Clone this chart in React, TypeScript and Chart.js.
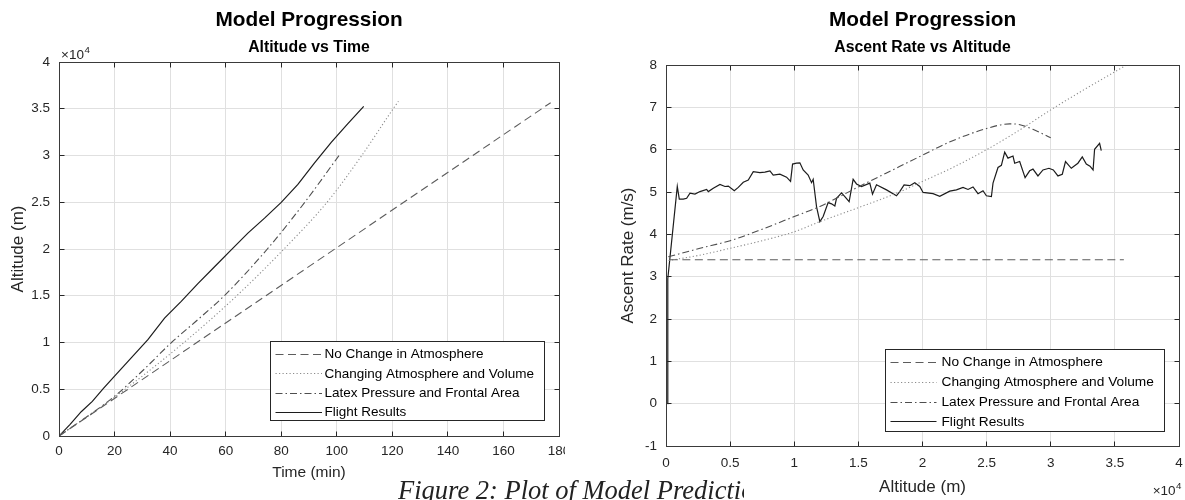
import React, { useEffect, useRef } from "react";
import { Chart, registerables } from "chart.js";

Chart.register(...registerables);

const FONT = '"Liberation Sans", Arial, sans-serif';

// ---------------- Data: left panel (Altitude vs Time) ----------------
const seriesLabels = [
  "No Change in Atmosphere",
  "Changing Atmosphere and Volume",
  "Latex Pressure and Frontal Area",
  "Flight Results",
];

const noChangeTime = [0, 177];
const noChangeAltitude = [0, 35650];

const changingTime = [0, 20, 45, 64, 81, 96.5, 109, 120.3, 122.2];
const changingAltitude = [0, 4150, 10000, 15000, 20000, 25000, 30000, 35000, 35800];

const latexTime = [0, 20, 30, 40.5, 50, 59.5, 75, 88.5, 100.8];
const latexAltitude = [0, 4250, 6950, 10000, 12450, 15000, 20000, 25000, 30000];

const flightTime = [0, 4, 8, 12, 16, 20, 26, 32, 38, 44, 50, 56, 62, 68, 74, 80, 86, 92, 98, 104, 109.7];
const flightAltitude = [0, 1250, 2600, 3700, 5100, 6400, 8350, 10300, 12600, 14400, 16300, 18100, 19900, 21700, 23300, 24980, 26900, 29200, 31400, 33400, 35260];

// ---------------- Data: right panel (Ascent Rate vs Altitude) ----------------
const noChangeRateAltitude = [300, 35700];
const noChangeRate = [3.4, 3.4];

const changingRateAltitude = [200, 2500, 5000, 7500, 10000, 12000, 15000, 18200, 20000, 22500, 25000, 27500, 30000, 32500, 35000, 35900];
const changingRate = [3.38, 3.5, 3.67, 3.85, 4.06, 4.3, 4.63, 5.0, 5.25, 5.6, 6.0, 6.45, 6.94, 7.4, 7.84, 8.0];

const latexRateAltitude = [180, 2650, 5000, 7500, 10000, 12000, 15000, 18200, 20000, 22100, 25000, 26800, 27600, 28600, 30000];
const latexRate = [3.47, 3.67, 3.85, 4.12, 4.42, 4.66, 5.12, 5.6, 5.87, 6.18, 6.5, 6.61, 6.59, 6.48, 6.28];

const flightRateAltitude = [
  120, 140, 880, 1036, 1348, 1610, 1870, 2259, 2649, 3168, 3298, 3687, 4207, 4597, 4857, 5324, 5636, 6025, 6415, 6805,
  7323, 7712, 8102, 8361, 8881, 9402, 9713, 9869, 10181, 10439, 10696, 11085, 11350, 11475, 11740, 11997, 12254, 12643,
  12908, 13165, 13298, 13687, 13944, 14279, 14591, 14856, 15245, 15891, 16102, 16413, 17193, 17972, 18226, 18564, 19008,
  19398, 19787, 20044, 20823, 21345, 22124, 22646, 23160, 23549, 23939, 24329, 24718, 24983, 25373, 25498, 25887, 26151,
  26409, 26666, 27055, 27188, 27577, 28000, 28356, 28614, 29003, 29393, 29860, 30200, 30560, 30900, 31150, 31603, 32118,
  32458, 32773, 33060, 33300, 33419, 33809, 33939,
];
const flightRate = [
  0, 2.95, 5.13, 4.83, 4.83, 4.85, 4.97, 4.95, 5.01, 5.06, 5.01, 5.09, 5.18, 5.13, 5.14, 5.03, 5.11, 5.23, 5.28, 5.48,
  5.46, 5.47, 5.5, 5.4, 5.42, 5.35, 5.25, 5.66, 5.68, 5.69, 5.52, 5.4, 5.22, 5.3, 4.65, 4.3, 4.42, 4.75,
  4.72, 4.67, 4.85, 4.98, 4.89, 4.77, 5.3, 5.19, 5.13, 5.21, 4.95, 5.17, 5.05, 4.91, 5.01, 5.17, 5.15,
  5.22, 5.13, 4.99, 4.96, 4.9, 5.02, 5.05, 5.11, 5.06, 5.12, 4.96, 5.03, 4.91, 4.89, 5.21, 5.58, 5.63,
  5.94, 5.8, 5.85, 5.68, 5.72, 5.34, 5.5, 5.54, 5.38, 5.52, 5.56, 5.52, 5.38, 5.42, 5.72, 5.56, 5.68,
  5.83, 5.66, 5.61, 5.52, 6.01, 6.15, 5.98,
];

// ---------------- Styles ----------------
const seriesStyles = [
  { color: "#5c5c5c", dash: [8, 4.5], width: 1.1, smooth: true },
  { color: "#8c8c8c", dash: [1.2, 2.3], width: 1.1, smooth: true },
  { color: "#4e4e4e", dash: [7, 3, 1.5, 3], width: 1.1, smooth: true },
  { color: "#1c1c1c", dash: [], width: 1.2, smooth: false },
];

function zip(xs: number[], ys: number[]) {
  return xs.map((x, i) => ({ x, y: ys[i] }));
}

function fmt(v: number) {
  return String(Number(v.toFixed(3)));
}

function align(p: number) {
  return Math.round(p - 0.5) + 0.5;
}

const decorPlugin = {
  id: "decor",
  afterDraw(chart: any, _args: any, o: any) {
    const { ctx, chartArea: a } = chart;
    const xs = chart.scales.x;
    const ys = chart.scales.y;
    const L = align(a.left);
    const R = align(a.right);
    const T = align(a.top);
    const B = align(a.bottom);
    ctx.save();
    // inward tick marks on all four sides
    ctx.strokeStyle = "#262626";
    ctx.lineWidth = 1;
    ctx.setLineDash([]);
    ctx.beginPath();
    const tl = o.tickLen;
    xs.ticks.forEach((t: any) => {
      const px = align(xs.getPixelForValue(t.value));
      ctx.moveTo(px, B);
      ctx.lineTo(px, B - tl);
      ctx.moveTo(px, T);
      ctx.lineTo(px, T + tl);
    });
    ys.ticks.forEach((t: any) => {
      const py = align(ys.getPixelForValue(t.value));
      ctx.moveTo(L, py);
      ctx.lineTo(L + tl, py);
      ctx.moveTo(R, py);
      ctx.lineTo(R - tl, py);
    });
    ctx.stroke();
    // box
    ctx.strokeStyle = "#3a3a3a";
    ctx.strokeRect(L, T, R - L, B - T);

    // titles
    ctx.fillStyle = "#000";
    ctx.textAlign = "center";
    ctx.textBaseline = "middle";
    const cx = (a.left + a.right) / 2;
    ctx.font = `bold ${o.titleSize}px ${FONT}`;
    ctx.fillText(o.title, cx, o.titleY);
    ctx.font = `bold ${o.subtitleSize}px ${FONT}`;
    ctx.fillText(o.subtitle, cx, o.subtitleY);

    // exponent label  x10^4
    ctx.fillStyle = "#262626";
    ctx.textBaseline = "alphabetic";
    ctx.textAlign = "left";
    ctx.font = `${o.expoSize}px ${FONT}`;
    const base = "\u00d710";
    const w1 = ctx.measureText(base).width;
    ctx.font = `${o.expoSize * 0.72}px ${FONT}`;
    const w2 = ctx.measureText("4").width;
    const ex = o.expoAlign === "right" ? a.right + o.expoDx - (w1 + w2) : a.left + o.expoDx;
    const ey = o.expoFrom === "bottom" ? a.bottom + o.expoDy : a.top + o.expoDy;
    ctx.font = `${o.expoSize}px ${FONT}`;
    ctx.fillText(base, ex, ey);
    ctx.font = `${o.expoSize * 0.72}px ${FONT}`;
    ctx.fillText("4", ex + w1 + 0.5, ey - o.expoSize * 0.42);

    // legend
    const lg = o.legend;
    ctx.font = `${lg.fontSize}px ${FONT}`;
    const ds = chart.data.datasets;
    let tw = 0;
    ds.forEach((d: any) => {
      tw = Math.max(tw, ctx.measureText(d.label).width);
    });
    const bw = Math.round(lg.textX + tw + lg.padR);
    const bh = lg.boxH;
    const bx = Math.round(a.right - lg.dr - bw) + 0.5;
    const by = Math.round(a.bottom - lg.db - bh) + 0.5;
    ctx.fillStyle = "#fff";
    ctx.fillRect(bx, by, bw, bh);
    ctx.strokeStyle = "#262626";
    ctx.lineWidth = 1;
    ctx.strokeRect(bx, by, bw, bh);
    ds.forEach((d: any, i: number) => {
      const cy = by + lg.firstRow + i * lg.rowH;
      ctx.beginPath();
      ctx.strokeStyle = d.borderColor;
      ctx.lineWidth = d.borderWidth;
      ctx.setLineDash(d.borderDash || []);
      ctx.moveTo(bx + lg.lineX0, Math.round(cy) + 0.5);
      ctx.lineTo(bx + lg.lineX1, Math.round(cy) + 0.5);
      ctx.stroke();
      ctx.setLineDash([]);
      ctx.fillStyle = "#000";
      ctx.textAlign = "left";
      ctx.textBaseline = "middle";
      ctx.fillText(d.label, bx + lg.textX, cy + 0.5);
    });
    ctx.restore();
  },
};

function makeConfig(p: any): any {
  const datasets = p.series.map((s: any, i: number) => {
    const st = seriesStyles[i];
    return {
      label: seriesLabels[i],
      data: zip(s.x, s.y),
      showLine: true,
      borderColor: st.color,
      borderDash: st.dash,
      borderWidth: st.width,
      pointRadius: 0,
      pointHoverRadius: 0,
      fill: false,
      cubicInterpolationMode: st.smooth ? "monotone" : "default",
      tension: 0,
    };
  });
  const tickFont = { family: FONT, size: 13.5 };
  return {
    type: "scatter",
    data: { datasets },
    plugins: [decorPlugin],
    options: {
      responsive: false,
      animation: false,
      events: [],
      layout: { padding: { left: 0, top: p.padTop, right: p.padRight, bottom: 0 } },
      plugins: {
        legend: { display: false },
        tooltip: { enabled: false },
        title: { display: false },
        decor: {
          title: "Model Progression",
          subtitle: p.subtitle,
          titleSize: 20.8,
          subtitleSize: 15.8,
          titleY: p.titleY,
          subtitleY: p.subtitleY,
          tickLen: 5,
          expoSize: 13.5,
          expoAlign: p.expoAlign,
          expoFrom: p.expoFrom,
          expoDx: p.expoDx,
          expoDy: p.expoDy,
          legend: p.legend,
        },
      },
      scales: {
        x: {
          type: "linear",
          min: p.xMin,
          max: p.xMax,
          afterFit: (s: any) => {
            s.height = p.xAxisHeight;
          },
          ticks: {
            stepSize: p.xStep,
            font: tickFont,
            color: "#262626",
            padding: p.xTickPad,
            maxRotation: 0,
            autoSkip: false,
            callback: (v: number) => fmt(v / p.xDiv),
          },
          grid: { color: "#e0e0e0", drawTicks: false, lineWidth: 1 },
          border: { display: false },
          title: {
            display: true,
            text: p.xTitle,
            font: { family: FONT, size: p.xTitleSize },
            color: "#262626",
            padding: { top: 0, bottom: p.xTitlePad },
          },
        },
        y: {
          type: "linear",
          min: p.yMin,
          max: p.yMax,
          afterFit: (s: any) => {
            s.width = p.yAxisWidth;
          },
          ticks: {
            stepSize: p.yStep,
            font: tickFont,
            color: "#262626",
            padding: 9,
            autoSkip: false,
            callback: (v: number) => fmt(v / p.yDiv),
          },
          grid: { color: "#e0e0e0", drawTicks: false, lineWidth: 1 },
          border: { display: false },
          title: {
            display: true,
            text: p.yTitle,
            font: { family: FONT, size: p.yTitleSize },
            color: "#262626",
            padding: { top: p.yTitlePad, bottom: 0 },
          },
        },
      },
    },
  };
}

export default function App() {
  const leftRef = useRef<HTMLCanvasElement>(null);
  const rightRef = useRef<HTMLCanvasElement>(null);

  useEffect(() => {
    const left = new Chart(
      leftRef.current!,
      makeConfig({
        series: [
          { x: noChangeTime, y: noChangeAltitude },
          { x: changingTime, y: changingAltitude },
          { x: latexTime, y: latexAltitude },
          { x: flightTime, y: flightAltitude },
        ],
        subtitle: "Altitude vs Time",
        titleY: 20,
        subtitleY: 48,
        padTop: 62,
        padRight: 41,
        yAxisWidth: 59,
        xAxisHeight: 64,
        xMin: 0,
        xMax: 180,
        xStep: 20,
        xDiv: 1,
        yMin: 0,
        yMax: 40000,
        yStep: 5000,
        yDiv: 10000,
        xTickPad: 7,
        xTitle: "Time (min)",
        yTitle: "Altitude (m)",
        xTitleSize: 15.5,
        yTitleSize: 17,
        xTitlePad: 18,
        yTitlePad: 7.8,
        expoAlign: "left",
        expoFrom: "top",
        expoDx: 2,
        expoDy: -3,
        legend: { dr: 15, db: 16, boxH: 79, firstRow: 12.5, rowH: 19.3, lineX0: 5, lineX1: 51.5, textX: 54, padR: 11, fontSize: 13.5 },
      })
    );
    const right = new Chart(
      rightRef.current!,
      makeConfig({
        series: [
          { x: noChangeRateAltitude, y: noChangeRate },
          { x: changingRateAltitude, y: changingRate },
          { x: latexRateAltitude, y: latexRate },
          { x: flightRateAltitude, y: flightRate },
        ],
        subtitle: "Ascent Rate vs Altitude",
        titleY: 20,
        subtitleY: 48,
        padTop: 65,
        padRight: 21,
        yAxisWidth: 66,
        xAxisHeight: 54,
        xMin: 0,
        xMax: 40000,
        xStep: 5000,
        xDiv: 10000,
        yMin: -1,
        yMax: 8,
        yStep: 1,
        yDiv: 1,
        xTickPad: 9,
        xTitle: "Altitude (m)",
        yTitle: "Ascent Rate (m/s)",
        xTitleSize: 17,
        yTitleSize: 17,
        xTitlePad: 2.8,
        yTitlePad: 17.8,
        expoAlign: "right",
        expoFrom: "bottom",
        expoDx: 2,
        expoDy: 49,
        legend: { dr: 15, db: 15, boxH: 82, firstRow: 12.7, rowH: 19.7, lineX0: 5, lineX1: 51, textX: 56, padR: 11, fontSize: 13.7 },
      })
    );
    return () => {
      left.destroy();
      right.destroy();
    };
  }, []);

  return (
    <div
      style={{
        position: "absolute",
        left: 0,
        top: 0,
        width: 1185,
        height: 500,
        overflow: "hidden",
        background: "#fff",
      }}
    >
      <div style={{ position: "absolute", left: 0, top: 0, width: 565, height: 500, overflow: "hidden" }}>
        <canvas ref={leftRef} width={600} height={500} style={{ display: "block", width: 600, height: 500 }} />
      </div>
      <div style={{ position: "absolute", left: 600, top: 0, width: 585, height: 500, overflow: "hidden" }}>
        <canvas ref={rightRef} width={600} height={500} style={{ display: "block", width: 600, height: 500 }} />
      </div>
      <div
        style={{
          position: "absolute",
          left: 398,
          top: 477,
          width: 346,
          overflow: "hidden",
          font: 'italic 26.5px "Liberation Serif", serif',
          lineHeight: "26px",
          color: "#222",
          whiteSpace: "nowrap",
        }}
      >
        Figure 2: Plot of Model Predictions
      </div>
    </div>
  );
}
